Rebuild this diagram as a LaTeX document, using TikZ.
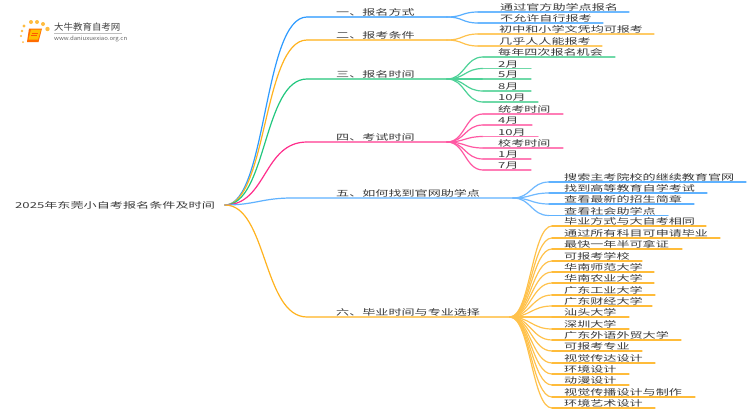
\documentclass[tikz,border=0pt]{standalone}
\usepackage{fontspec}
\usepackage{graphicx}
\setmainfont{Noto Sans CJK SC}
\definecolor{cA}{HTML}{2E9BFF}\definecolor{cAl}{HTML}{6DB9FF}
\definecolor{cB}{HTML}{FFB31F}\definecolor{cBl}{HTML}{FFCB66}
\definecolor{cC}{HTML}{22C77F}\definecolor{cCl}{HTML}{6FD9A8}
\definecolor{cD}{HTML}{FF2E8C}\definecolor{cDl}{HTML}{FF7DB6}
\definecolor{cE}{HTML}{4BA8FF}\definecolor{cEl}{HTML}{5FB2FF}
\definecolor{cF}{HTML}{FFB31F}\definecolor{cFl}{HTML}{FFBC3A}
\definecolor{txt}{HTML}{3A3A3A}
\newcommand{\WT}[1]{\scalebox{1.595}[1]{\fontsize{8.2}{10}\selectfont #1}}
\tikzset{
  lab/.style={anchor=base west,inner sep=0pt,text=txt},
  wire/.style={line width=1.2pt,line cap=round},
}
% level-1 branch: id, y, colour, text
\newcommand{\Bone}[4]{%
  \coordinate (s#1) at (307,#2);
  \coordinate (h#1) at (447,#2);
  \draw[wire,#3] (root) .. controls +(42,0) and +(-44,0) .. (s#1);
  \draw[wire,#3l] (s#1) -- (h#1);
  \node[lab] (t#1) at (336,#2-1.5) {\WT{#4}};
}
% leaves: hub, xstart of text, xcurve end, dx of controls, colour, list
\newcommand{\Leaves}[6]{%
  \foreach \yy/\xe/\tx [count=\i] in {#6} {
    \coordinate (a#1\i) at (#3,\yy);
    \coordinate (b#1\i) at (\xe,\yy);
    \draw[wire,#5!80!white] (h#1) .. controls +(#4,0) and +(-#4,0) .. (a#1\i);
    \draw[wire,#5l] (a#1\i) -- (b#1\i);
    \node[lab] (n#1\i) at (#2,\yy-1.5) {\WT{\tx}};
  }
}
\begin{document}
\begin{tikzpicture}[x=1pt,y=-1pt]
\useasboundingbox (0,0) rectangle (750,410);
\fill[white] (0,0) rectangle (750,410);
\coordinate (root) at (225,205);
\node[lab] (title) at (15,208) {\scalebox{1.6}[1]{\fontsize{8.2}{10}\selectfont 2025年东莞小自考报名条件及时间}};
% logo
\foreach \dx/\dy/\r in {24/26/1.7,31/22/2,37/22/2,43/24/2,47.5/29/2.2,22/31/1.4,21/36/1.1,23/42/1}
  \fill[orange!70!yellow!75] (\dx,\dy) circle[radius=\r];
\fill[orange!85!red] (29,28.5) -- (42,28.5) -- (38.5,42) -- (27,42) -- cycle;
\fill[orange!50!yellow] (31,29.5) -- (41,29.5) -- (38,39.5) -- (28.5,39.5) -- cycle;
\draw[orange!70!red,line width=.5pt] (31.5,33) -- (38,33) (31,35.5) -- (37,35.5);
\node[lab,text=black!75] (logo) at (54,30.5) {\scalebox{1.05}[1]{\fontsize{9}{10}\selectfont 大牛教育自考网}};
\draw[black!25,line width=.5pt] (54,33.5) -- (122,33.5);
\node[lab,text=black!60] (url) at (54,40.5) {\scalebox{1.08}[1]{\fontsize{5.6}{6}\selectfont www.daniuxuexiao.org.cn}};

\Bone{A}{17}{cA}{一、报名方式}
\Bone{B}{40}{cB}{二、报考条件}
\Bone{C}{79}{cC}{三、报名时间}
\Bone{D}{142}{cD}{四、考试时间}
\coordinate (sE) at (292,198);\coordinate (hE) at (513,198);
\draw[wire,cEl] (root) .. controls +(30,0) and +(-30,0) .. (sE) -- (hE);
\node[lab] (tE) at (336,196.5) {\WT{五、如何找到官网助学点}};
\coordinate (sF) at (307,317);\coordinate (hF) at (510,317);
\draw[wire,cF] (root) .. controls +(42,0) and +(-44,0) .. (sF) -- (hF);
\node[lab] (tF) at (336,315.5) {\WT{六、毕业时间与专业选择}};

\Leaves{A}{500}{478}{16}{cA}{12/629/通过官方助学点报名,23/603/不允许自行报考}
\Leaves{B}{499}{478}{16}{cB}{34/654/初中和小学文凭均可报考,46/602/几乎人人能报考}
\Leaves{C}{498}{483}{18}{cC}{57/615/每年四次报名机会,68.5/531/2月,79/531/5月,91/531/8月,102/538/10月}
\Leaves{D}{498}{483}{18}{cD}{114/563/统考时间,125/532/4月,136.5/538/10月,148/563/校考时间,159/531/1月,170/531/7月}
\Leaves{E}{564}{549}{18}{cE}{182/746/搜索主考院校的继续教育官网,193/707/找到高等教育自学考试,204/694/查看最新的招生简章,215.5/668/查看社会助学点}
\Leaves{F}{564}{552}{20}{cF}{226/706/毕业方式与大自考相同,238/720/通过所有科目可申请毕业,249/682/最快一年半可拿证,261/642/可报考学校,272/654/华南师范大学,283/654/华南农业大学,295/655/广东工业大学,306/652/广东财经大学,317/629/汕头大学,329/629/深圳大学,340/681/广东外语外贸大学,351/642/可报考专业,363/655/视觉传达设计,374/629/环境设计,385/629/动漫设计,397/695/视觉传播设计与制作,408/655/环境艺术设计}
\end{tikzpicture}
\end{document}
